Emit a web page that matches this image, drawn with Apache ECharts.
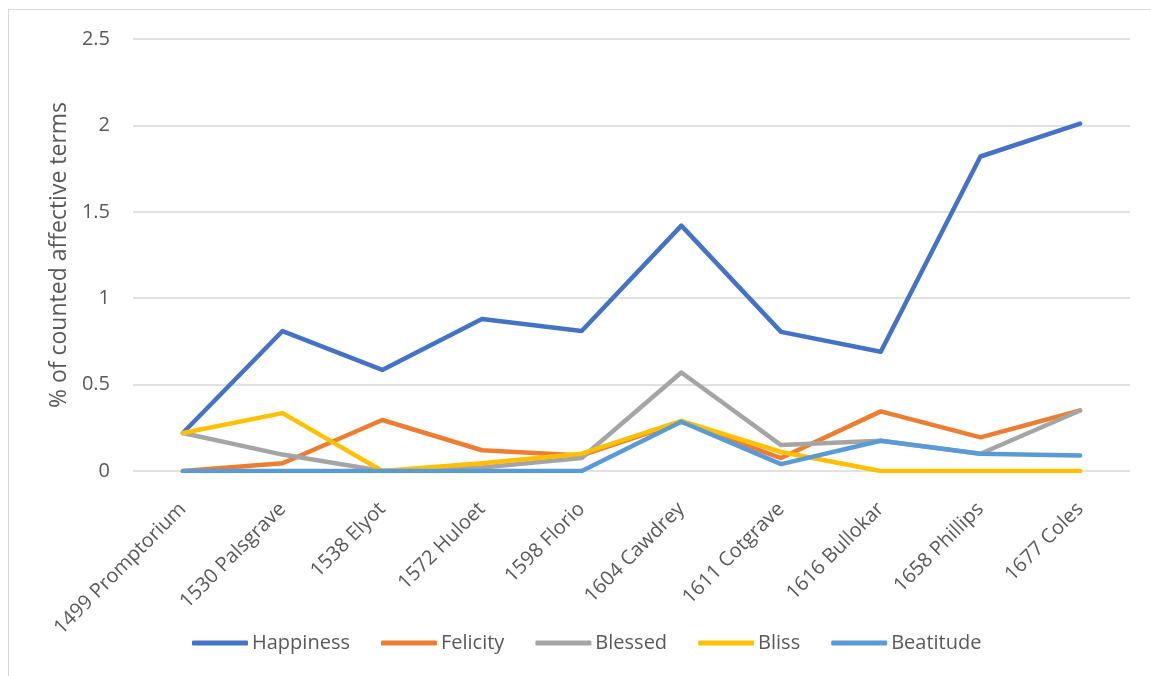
<!DOCTYPE html>
<html>
<head>
<meta charset="utf-8">
<script src="https://cdn.jsdelivr.net/npm/echarts@6/dist/echarts.min.js"></script>
<style>
  html, body { margin: 0; padding: 0; background: #ffffff; }
  #frame {
    position: absolute; left: 8px; top: 9px; width: 1160px; height: 700px;
    border-left: 1px solid #d9d9d9; border-top: 1px solid #d9d9d9;
  }
  #chart { position: absolute; left: 0; top: 0; width: 1151px; height: 676px; }
</style>
</head>
<body>
<div id="frame"></div>
<div id="chart"></div>
<script>
// Dictionaries, in date order
const dictionaries = ['1499 Promptorium', '1530 Palsgrave', '1538 Elyot', '1572 Huloet', '1598 Florio',
  '1604 Cawdrey', '1611 Cotgrave', '1616 Bullokar', '1658 Phillips', '1677 Coles'];

// Share of counted affective terms (%) for each word
const happiness = [0.22, 0.81, 0.585, 0.88, 0.81, 1.42, 0.805, 0.69, 1.82, 2.01];
const felicity  = [0, 0.045, 0.295, 0.12, 0.09, 0.285, 0.075, 0.345, 0.195, 0.35];
const blessed   = [0.22, 0.095, 0, 0.02, 0.075, 0.57, 0.15, 0.175, 0.1, 0.35];
const bliss     = [0.22, 0.335, 0, 0.045, 0.1, 0.29, 0.11, 0, 0, 0];
const beatitude = [0, 0, 0, 0, 0, 0.285, 0.04, 0.175, 0.1, 0.09];

const yTicks = { min: 0, max: 2.5, step: 0.5 };

const seriesDefs = [
  { name: 'Happiness', data: happiness, color: '#4472C4' },
  { name: 'Felicity',  data: felicity,  color: '#ED7D31' },
  { name: 'Blessed',   data: blessed,   color: '#A5A5A5' },
  { name: 'Bliss',     data: bliss,     color: '#FFC000' },
  { name: 'Beatitude', data: beatitude, color: '#5B9BD5' }
];

const FONT = '"Open Sans", "Noto Sans", sans-serif';
const chart = echarts.init(document.getElementById('chart'), null, { renderer: 'canvas' });

chart.setOption({
  backgroundColor: 'transparent',
  animation: false,
  grid: { left: 133, right: 21, top: 39, bottom: 205, containLabel: false },
  legend: {
    bottom: 18,
    left: 187,
    itemWidth: 56,
    itemHeight: 5,
    itemGap: 31,
    icon: 'roundRect',
    textStyle: { fontFamily: FONT, fontSize: 20, color: '#595959', padding: [0, 0, 0, -1] },
    data: seriesDefs.map(s => s.name)
  },
  xAxis: {
    type: 'category',
    data: dictionaries,
    boundaryGap: true,
    axisLine: { show: false },
    axisTick: { show: false },
    axisLabel: {
      rotate: 45,
      interval: 0,
      margin: 35,
      fontFamily: FONT,
      fontSize: 20,
      color: '#595959'
    }
  },
  yAxis: {
    type: 'value',
    min: yTicks.min,
    max: yTicks.max,
    interval: yTicks.step,
    name: '% of counted affective terms',
    nameLocation: 'middle',
    nameGap: 61,
    nameTextStyle: { fontFamily: FONT, fontSize: 23, color: '#595959' },
    axisLine: { show: false },
    axisTick: { show: false },
    axisLabel: { fontFamily: FONT, fontSize: 20, color: '#595959', margin: 23 },
    splitLine: { lineStyle: { color: '#d9d9d9', width: 1.5 } }
  },
  series: seriesDefs.map(s => ({
    name: s.name,
    type: 'line',
    data: s.data,
    symbol: 'none',
    smooth: false,
    color: s.color,
    lineStyle: { width: 4.5, color: s.color, cap: 'round', join: 'round' },
    itemStyle: { color: s.color }
  }))
});
</script>
</body>
</html>
